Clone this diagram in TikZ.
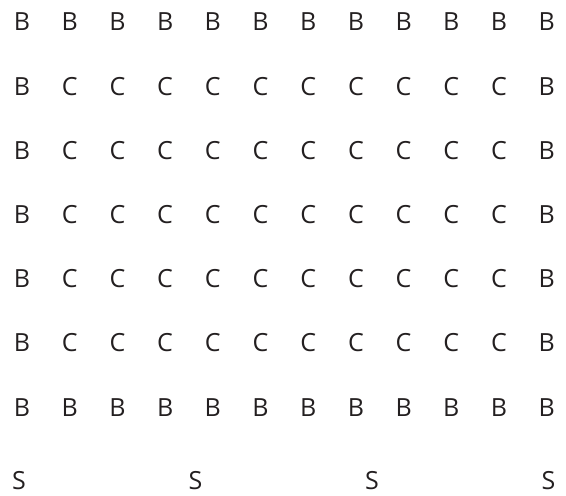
\documentclass[tikz,border=0pt]{standalone}
\usepackage{fontspec}
\setmainfont{Open Sans}
\usetikzlibrary{positioning}
\definecolor{lettergrey}{HTML}{231F20}

\begin{document}
\begin{tikzpicture}[x=1pt, y=-1pt,
    cell/.style={inner sep=0pt, text=lettergrey, font=\fontsize{25}{25}\selectfont},
    scell/.style={cell}]
  \useasboundingbox (0,0) rectangle (566,496);
  % outer ring of B, inner block of C
  \foreach \r in {1,...,7} {
    \foreach \c in {1,...,12} {
      \pgfmathsetmacro{\px}{22+47.7*(\c-1)}
      \pgfmathsetmacro{\py}{22+64.2*(\r-1)}
      \ifnum\r=1 \def\lt{B}\else\ifnum\r=7 \def\lt{B}\else
        \ifnum\c=1 \def\lt{B}\else\ifnum\c=12 \def\lt{B}\else\def\lt{C}\fi\fi\fi\fi
      \node[cell] (g-\r-\c) at (\px,\py) {\lt};
    }
  }
  % bottom row of S
  \foreach \k in {0,...,3} {
    \pgfmathsetmacro{\px}{19+176.5*\k}
    \node[scell] (s-\k) at (\px,481) {S};
  }
\end{tikzpicture}
\end{document}
